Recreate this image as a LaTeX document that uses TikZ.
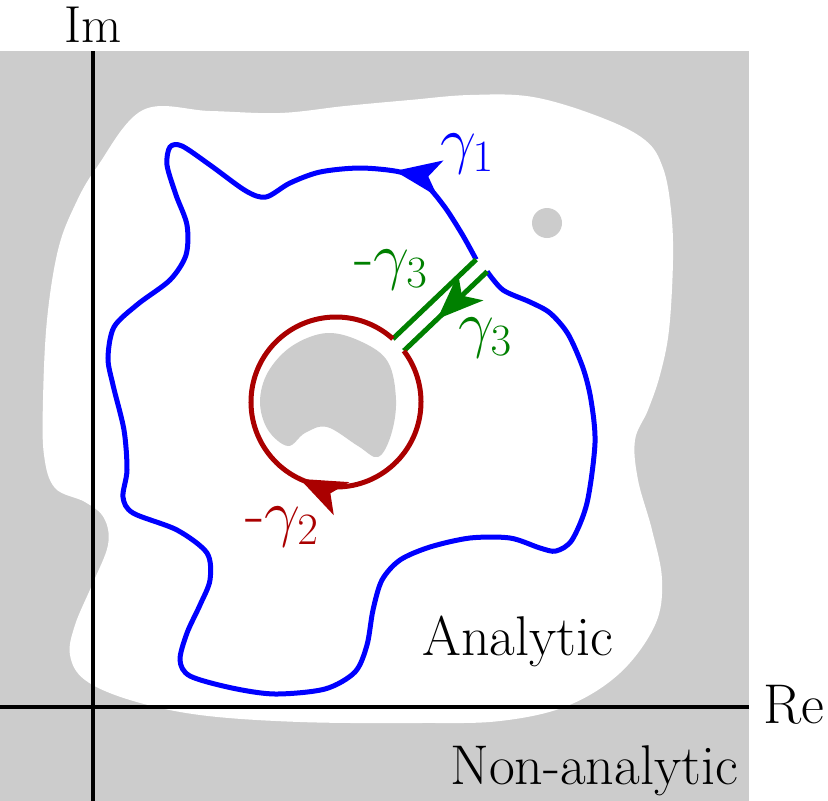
\RequirePackage{fix-cm}
\documentclass[tikz,border=0pt]{standalone}
\usepackage{fontspec}
\usetikzlibrary{arrows.meta,decorations.markings}
\definecolor{bggray}{RGB}{204,204,204}
\definecolor{cblue}{RGB}{0,0,255}
\definecolor{cgreen}{RGB}{0,128,0}
\definecolor{cred}{RGB}{170,0,0}
\begin{document}
\begin{tikzpicture}[x=1pt,y=-1pt,
  lbl/.style={inner sep=0pt, font=\fontsize{56}{66}\selectfont},
  glbl/.style={inner sep=0pt, font=\fontsize{64}{76}\selectfont},
  curve/.style={line width=5pt},
  axisline/.style={line width=3.5pt, black},
  tip/.style={decoration={markings, mark=at position #1 with {\arrow{Stealth[length=46pt,width=36pt,inset=12pt]}}}, postaction={decorate}},
]
\useasboundingbox (0,0) rectangle (828,801);
% non-analytic background
\fill[bggray] (0,51) rectangle (749,801);
% analytic region
\fill[white] plot[smooth cycle, tension=0.6] coordinates {
 (97,167) (143,110) (210,111) (280,113) (345,106) (410,100) (470,95) (533,97)
 (600,117) (645,140) (663,168) (671,210) (673,260) (669,330) (660,375) (648,410)
 (635,440) (638,480) (652,530) (662,580) (655,625) (620,673) (567,706) (500,721)
 (420,723) (300,722) (200,715) (130,700) (85,680) (70,655) (75,625) (92,585)
 (108,545) (104,518) (85,502) (55,488) (44,455) (43,400) (47,320) (58,250) (75,205)};
% singularities
\fill[bggray] (547,223) circle[radius=15];
\fill[bggray] plot[smooth cycle, tension=0.6] coordinates {
 (327,333) (362,342) (388,362) (396,400) (391,435) (378,457) (358,446) (327,427)
 (305,433) (288,446) (268,430) (260,402) (268,372) (292,346)};
% axes
\coordinate (imtop) at (93,51);
\coordinate (imbot) at (93,801);
\coordinate (releft) at (0,707);
\coordinate (reright) at (749,707);
\draw[axisline] (imtop) -- (imbot);
\draw[axisline] (releft) -- (reright);
% contour geometry
\coordinate (C) at (336,402);
\path (C) ++(-37:85) coordinate (P1);
\path (C) ++(-48:85) coordinate (P2);
\path (P1) ++(-43.6:115) coordinate (Q1);
\path (P2) ++(-43.6:115) coordinate (Q2);
% gamma 1
\draw[cblue, curve, tip=125pt] plot[smooth, tension=0.5] coordinates {
 (Q2) (462,234) (444,206) (424,183) (400,172) (360,168) (320,172) (290,183)
 (266,197) (246,191) (210,165) (182,146) (170,147) (167,165) (176,195) (187,225)
 (186,255) (170,280) (138,304) (114,327) (108,358) (113,385) (124,430) (127,470)
 (123,497) (133,513) (177,530) (207,553) (210,580) (200,605) (187,633) (180,660)
 (190,676) (232,688) (275,694) (325,689) (355,672) (367,645) (373,610) (382,580)
 (400,560) (430,547) (470,538) (510,538) (540,548) (556,551) (572,540) (587,503)
 (595,443) (591,400) (583,368) (568,334) (550,313) (530,302) (503,290) (Q1)};
% gamma 3 pieces
\draw[cgreen, curve, tip=0.6] (Q1) -- (P1);
\draw[cgreen, curve] (P2) -- (Q2);
% -gamma 2
\draw[cred, curve, tip=226pt] (P1) arc[start angle=-37, end angle=312, radius=85];
% labels
\node[glbl, text=cblue] (g1) at (467,154) {$\gamma_1$};
\node[glbl, text=cgreen] (mg3) at (391,270) {-$\gamma_3$};
\node[glbl, text=cgreen] (g3) at (485,338) {$\gamma_3$};
\node[glbl, text=cred] (mg2) at (282,527) {-$\gamma_2$};
\node[lbl, anchor=base, font=\fontsize{52}{62}\selectfont] (im) at (93,42) {Im};
\node[lbl, anchor=base west] (re) at (763,723) {Re};
\node[lbl, anchor=base west] (an) at (422,655) {Analytic};
\node[lbl, anchor=base west] (na) at (450,784) {Non-analytic};
\end{tikzpicture}
\end{document}
